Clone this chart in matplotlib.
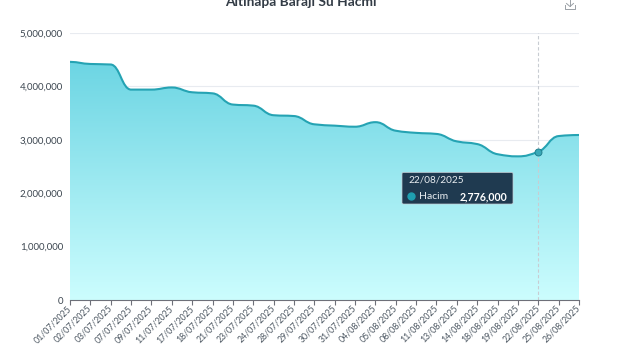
import matplotlib
matplotlib.use('Agg')
import matplotlib.pyplot as plt
import numpy as np
from matplotlib.colors import LinearSegmentedColormap
from matplotlib.lines import Line2D
from matplotlib.patches import FancyBboxPatch, PathPatch
from matplotlib.path import Path

W, H = 640, 360
LEFT, RIGHT, TOP, BOTTOM = 70, 579, 33, 300

dates = ['01/07/2025', '02/07/2025', '03/07/2025', '07/07/2025', '09/07/2025',
         '11/07/2025', '17/07/2025', '18/07/2025', '21/07/2025', '23/07/2025',
         '24/07/2025', '28/07/2025', '29/07/2025', '30/07/2025', '31/07/2025',
         '04/08/2025', '05/08/2025', '08/08/2025', '11/08/2025', '13/08/2025',
         '14/08/2025', '18/08/2025', '19/08/2025', '22/08/2025', '25/08/2025',
         '26/08/2025']
volume = [4460000, 4420000, 4410000, 3940000, 3940000,
          3980000, 3890000, 3870000, 3660000, 3640000,
          3460000, 3445000, 3290000, 3265000, 3245000,
          3330000, 3170000, 3130000, 3110000, 2970000,
          2920000, 2730000, 2690000, 2776000, 3070000,
          3090000]
y_ticks = [0, 1000000, 2000000, 3000000, 4000000, 5000000]
hover_date = '22/08/2025'
hover_value = 2776000

LINE = '#25a3b3'
TEXT = '#4a5560'
plt.rcParams['font.family'] = ['Lato', 'DejaVu Sans']


def smooth_path(x, y):
    # monotone cubic tangents, flat at local extremes
    dx = np.diff(x)
    s = np.diff(y) / dx
    m = np.zeros(len(x))
    for i in range(1, len(x) - 1):
        if s[i - 1] * s[i] > 0:
            m[i] = 2 * s[i - 1] * s[i] / (s[i - 1] + s[i])
    m[0], m[-1] = s[0] * 0.3, s[-1] * 0.3
    verts = [(x[0], y[0])]
    codes = [Path.MOVETO]
    for i in range(len(x) - 1):
        h = dx[i] * 0.45
        verts += [(x[i] + h, y[i] + m[i] * h), (x[i + 1] - h, y[i + 1] - m[i + 1] * h), (x[i + 1], y[i + 1])]
        codes += [Path.CURVE4] * 3
    return verts, codes


fig = plt.figure(figsize=(W / 100, H / 100), dpi=100)
ax = fig.add_axes([LEFT / W, 1 - BOTTOM / H, (RIGHT - LEFT) / W, (BOTTOM - TOP) / H])

pos = np.arange(len(dates))
verts, codes = smooth_path(pos, np.array(volume, dtype=float))

# gradient fill under the curve
area = Path(verts + [(pos[-1], 0), (pos[0], 0), (pos[0], 0)],
            codes + [Path.LINETO, Path.LINETO, Path.CLOSEPOLY])
cmap = LinearSegmentedColormap.from_list('fill', ['#ccfdfe', '#6cd5e3'])
grad = ax.imshow(np.linspace(1, 0, 256).reshape(-1, 1), cmap=cmap, aspect='auto',
                 extent=(pos[0], pos[-1], 0, max(volume)), zorder=2, vmin=0, vmax=1)
grad.set_clip_path(PathPatch(area, transform=ax.transData))

ax.add_patch(PathPatch(Path(verts, codes), fill=False, edgecolor=LINE, lw=1.5, zorder=3))

ax.set_xlim(pos[0], pos[-1])
ax.set_ylim(0, 5000000)
ax.set_xticks(pos)
ax.set_xticklabels(dates, rotation=45, ha='right', va='center', rotation_mode='anchor', fontsize=6.3, color=TEXT)
ax.set_yticks(y_ticks)
ax.set_yticklabels([f'{v:,}' for v in y_ticks], fontsize=7.0, color='#3c4650')
ax.tick_params(axis='y', length=0, pad=5)
ax.tick_params(axis='x', length=3.5, width=0.8, color='#6e7079', pad=1.5)
ax.grid(axis='y', color='#e8ebf0', lw=0.8, zorder=1)
ax.set_axisbelow(True)
for side in ['top', 'right', 'left']:
    ax.spines[side].set_visible(False)
ax.spines['bottom'].set_color('#6e7079')
ax.spines['bottom'].set_linewidth(0.8)
ax.spines['bottom'].set_zorder(5)

# hover state
i = dates.index(hover_date)
ax.axvline(pos[i], color='#c8ccd2', lw=0.8, ls=(0, (3, 2)), zorder=4)
ax.plot([pos[i]], [hover_value], 'o', ms=5, mfc='#3aa9b8', mec='#1f7f8e', mew=0.7, zorder=6, clip_on=False)


def px(x, y):
    return x / W, 1 - y / H


fig.text(*px(301, 1.5), 'Altınapa Barajı Su Hacmi', ha='center', va='center', fontsize=9.9,
         fontweight='bold', color='#333c46')

# tooltip
x0, y0 = px(402, 204)
x1, y1 = px(513, 172.5)
fig.add_artist(FancyBboxPatch((x0, y0), x1 - x0, y1 - y0, boxstyle='round,pad=0,rounding_size=0.003',
                              transform=fig.transFigure, fc='#1f3a50', ec='#c5ccd3', lw=0.5, zorder=10))
fig.text(*px(408, 180), hover_date, fontsize=7.2, color='#e8edf1', va='center', zorder=11)
fig.text(*px(419, 196.5), 'Hacim', fontsize=7.5, color='#e8edf1', va='center', zorder=11)
fig.text(*px(507, 196.5), f'{hover_value:,}', fontsize=7.6, fontweight='bold', color='#ffffff', va='center', ha='right',
         zorder=11)
fig.add_artist(Line2D(*zip(px(411, 196.5)), marker='o', ms=5, color='#1f9fb0', zorder=11, transform=fig.transFigure))

# download icon
icon = [[(570, 0), (570, 6)], [(566.5, 3.5), (570, 6.5), (573.5, 3.5)],
        [(565, 5), (565, 8.5), (575, 8.5), (575, 5)]]
for seg in icon:
    xs, ys = zip(*[px(a, b) for a, b in seg])
    fig.add_artist(Line2D(xs, ys, color='#9aa0a6', lw=0.7, transform=fig.transFigure))

fig.savefig('out.png', dpi=100)
